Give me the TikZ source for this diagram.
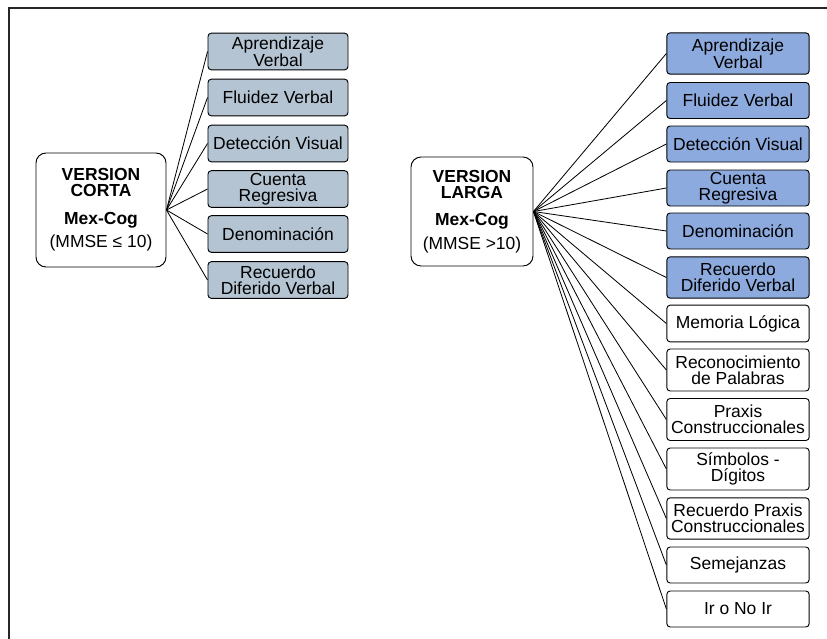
\documentclass[tikz,border=0pt]{standalone}
\usepackage{fontspec}
\setmainfont{Liberation Sans}

\definecolor{grisazul}{HTML}{B4C4D2}
\definecolor{azul}{HTML}{8DAADE}

\begin{document}
\begin{tikzpicture}[x = 0.03cm, y = -0.03cm,
    font = \fontsize{14.9}{13.6}\selectfont,
    raiz/.style = {shape = rectangle, draw, rounded corners = 0.3cm, line width = 0.8pt,
        align = center, minimum width = 3.8cm, minimum height = 3.3cm, inner sep = 1pt},
    prueba/.style = {shape = rectangle, draw, rounded corners = 0.1cm, line width = 0.8pt,
        align = center, minimum width = 4.2cm, minimum height = 1.1cm, inner sep = 1pt},
    rama/.style = {line width = 0.7pt}]
    \useasboundingbox (0,0) rectangle (827,639);
    % marco
    \coordinate (M0) at (9,8);
    \coordinate (M1) at (827,8);
    \coordinate (M2) at (9,639);
    \draw [line width = 1.6pt, black!85] (M1) -- (M0) -- (M2);

    % version corta
    \node [raiz, minimum width = 3.9cm, minimum height = 3.42cm] (corta) at (101,210)
        {\textbf{VERSION}\\\textbf{CORTA}\\[10pt]\textbf{Mex-Cog}\\[5pt](MMSE ≤ 10)};
    \foreach \y/\t [count = \i] in {51.5/Aprendizaje\\Verbal, 97.5/Fluidez Verbal,
        143.5/Detección Visual, 189/Cuenta\\Regresiva, 234/Denominación,
        280/Recuerdo\\Diferido Verbal}
    {
        \node [prueba, fill = grisazul] (c\i) at (278,\y) {\t};
        \draw [rama] (corta.east) -- (c\i.west);
    }

    % version larga
    \node [raiz, minimum width = 3.66cm, minimum height = 3.27cm] (larga) at (472,211.5)
        {\textbf{VERSION}\\\textbf{LARGA}\\[10pt]\textbf{Mex-Cog}\\[5pt](MMSE >10)};
    \foreach \y/\t/\c/\h [count = \i] in {53.5/Aprendizaje\\Verbal/azul/1.24cm,
        100.5/Fluidez Verbal/azul/1.08cm, 144/Detección Visual/azul/1.08cm,
        188/Cuenta\\Regresiva/azul/1.08cm, 231/Denominación/azul/1.08cm,
        277.5/Recuerdo\\Diferido Verbal/azul/1.24cm, 323.5/Memoria Lógica/white/1.1cm,
        370/Reconocimiento\\de Palabras/white/1.26cm, 419.5/Praxis\\Construccionales/white/1.26cm,
        469/Símbolos -\\Dígitos/white/1.26cm,
        518.5/Recuerdo Praxis\\Construccionales/white/1.24cm,
        565/Semejanzas/white/1.08cm, 609/Ir o No Ir/white/1.08cm}
    {
        \node [prueba, fill = \c, minimum width = 4.27cm, minimum height = \h] (l\i) at (738,\y) {\t};
        \draw [rama] (larga.east) -- (l\i.west);
    }
\end{tikzpicture}
\end{document}
